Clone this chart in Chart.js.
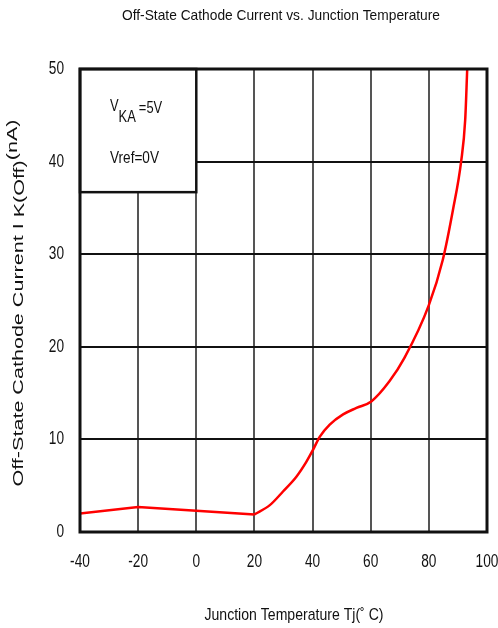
<!DOCTYPE html>
<html>
<head>
<meta charset="utf-8">
<script src="https://cdn.jsdelivr.net/npm/chart.js@4"></script>
<style>
  html, body { margin: 0; padding: 0; background: #fff; }
  #wrap { width: 498px; height: 628px; }
</style>
</head>
<body>
<div id="wrap"><canvas id="c" width="498" height="628"></canvas></div>
<script>
// data
const xTicks = [-40, -20, 0, 20, 40, 60, 80, 100];
const yTicks = [0, 10, 20, 30, 40, 50];

// flat part, straight segments
const lowTemp = [-40, -20, 0, 20];
const lowCurrent = [2.0, 2.7, 2.3, 1.9];

// rising part, smooth
const highTemp = [20, 25.3, 29.9, 34.5, 37.9, 40.2, 42.5, 45.9, 50.5, 55.1, 60.2, 66.5, 71.6, 80, 84.8, 88.3, 91.1, 92.5, 93.2];
const highCurrent = [1.9, 2.9, 4.4, 6.0, 7.6, 8.9, 10.3, 11.6, 12.7, 13.4, 14.1, 16.3, 18.8, 24.5, 29.4, 34.8, 40.0, 44.5, 50.0];

const chartTitle = 'Off-State Cathode Current vs. Junction Temperature';
const xTitle = 'Junction Temperature Tj(\u02da C)';
const noteVref = 'Vref=0V';

const FONT = "'Liberation Sans', Arial, sans-serif";
const NARROW = 0.76; // squeeze to look like Arial Narrow

const toPts = (xs, ys) => xs.map((x, i) => ({ x, y: ys[i] }));

// draw text squeezed horizontally; sx = horizontal scale
function narrowText(ctx, txt, x, y, size, sx, align) {
  ctx.save();
  ctx.font = size + 'px ' + FONT;
  ctx.textAlign = align || 'center';
  ctx.textBaseline = 'middle';
  ctx.translate(x, y);
  ctx.scale(sx, 1);
  ctx.fillText(txt, 0, 0);
  ctx.restore();
}

function fitScale(ctx, txt, size, width) {
  ctx.font = size + 'px ' + FONT;
  return width / ctx.measureText(txt).width;
}

const decorations = {
  id: 'decorations',
  beforeDatasetsDraw(chart) {
    const { ctx, scales: { x, y } } = chart;
    // condition box in the top-left cell
    const bx0 = x.getPixelForValue(-40), bx1 = x.getPixelForValue(0);
    const by0 = y.getPixelForValue(50), by1 = y.getPixelForValue(36.7);
    ctx.save();
    ctx.fillStyle = '#fff';
    ctx.fillRect(bx0, by0, bx1 - bx0, by1 - by0);
    ctx.strokeStyle = '#111';
    ctx.lineWidth = 2.5;
    ctx.strokeRect(bx0, by0, bx1 - bx0, by1 - by0);
    ctx.fillStyle = '#111';
    // V with subscript KA, then =5V
    let tx = 110;
    const s = 17;
    ctx.font = s + 'px ' + FONT;
    narrowText(ctx, 'V', tx, 106, s, NARROW, 'left');
    tx += ctx.measureText('V').width * NARROW;
    narrowText(ctx, 'KA', tx, 117, s, NARROW, 'left');
    tx += ctx.measureText('KA').width * NARROW + 3;
    narrowText(ctx, '=5V', tx, 108, s, NARROW, 'left');
    narrowText(ctx, noteVref, 110, 158, s, fitScale(ctx, noteVref, s, 49), 'left');
    ctx.restore();
  },
  afterDraw(chart) {
    const { ctx, chartArea: a, scales: { x, y } } = chart;
    ctx.save();
    // frame
    ctx.strokeStyle = '#111';
    ctx.lineWidth = 3;
    ctx.strokeRect(a.left, a.top, a.right - a.left, a.bottom - a.top);
    ctx.fillStyle = '#111';
    // tick labels
    yTicks.forEach(v => narrowText(ctx, String(v), 64, y.getPixelForValue(v), 18, NARROW, 'right'));
    xTicks.forEach(v => narrowText(ctx, String(v), x.getPixelForValue(v), 562, 18, NARROW, 'center'));
    // chart title
    narrowText(ctx, chartTitle, 281, 16, 15, fitScale(ctx, chartTitle, 15, 318), 'center');
    // x title
    narrowText(ctx, xTitle, 294, 615, 17, fitScale(ctx, xTitle, 17, 179), 'center');
    // y title, rotated, with sub/superscript pieces
    ctx.translate(19, 303);
    ctx.rotate(-Math.PI / 2);
    ctx.font = '15px ' + FONT;
    ctx.textAlign = 'left';
    ctx.textBaseline = 'middle';
    const parts = [['Off-State Cathode Current I ', 0], ['K(Off)', 1], ['(nA)', -6]];
    const total = parts.reduce((sum, p) => sum + ctx.measureText(p[0]).width, 0);
    ctx.scale(367 / total, 1);
    let px = -total / 2;
    parts.forEach(([txt, dy]) => {
      ctx.fillText(txt, px, dy);
      px += ctx.measureText(txt).width;
    });
    ctx.restore();
  }
};

new Chart(document.getElementById('c'), {
  type: 'line',
  data: {
    datasets: [
      { data: toPts(lowTemp, lowCurrent), borderColor: '#ff0000', borderWidth: 2.5, pointRadius: 0, tension: 0 },
      { data: toPts(highTemp, highCurrent), borderColor: '#ff0000', borderWidth: 2.5, pointRadius: 0, cubicInterpolationMode: 'monotone' }
    ]
  },
  options: {
    responsive: false,
    animation: false,
    layout: { padding: { top: 69, right: 11, left: 0, bottom: 0 } },
    plugins: { legend: { display: false }, tooltip: { enabled: false } },
    scales: {
      x: {
        type: 'linear', min: -40, max: 100,
        afterBuildTicks: s => { s.ticks = xTicks.map(v => ({ value: v })); },
        afterFit: s => { s.height = 96; },
        ticks: { display: false },
        grid: { color: '#555', lineWidth: 2, drawTicks: false },
        border: { display: false }
      },
      y: {
        min: 0, max: 50,
        afterBuildTicks: s => { s.ticks = yTicks.map(v => ({ value: v })); },
        afterFit: s => { s.width = 80; },
        ticks: { display: false },
        grid: { color: '#111', lineWidth: 2, drawTicks: false },
        border: { display: false }
      }
    }
  },
  plugins: [decorations]
});
</script>
</body>
</html>
